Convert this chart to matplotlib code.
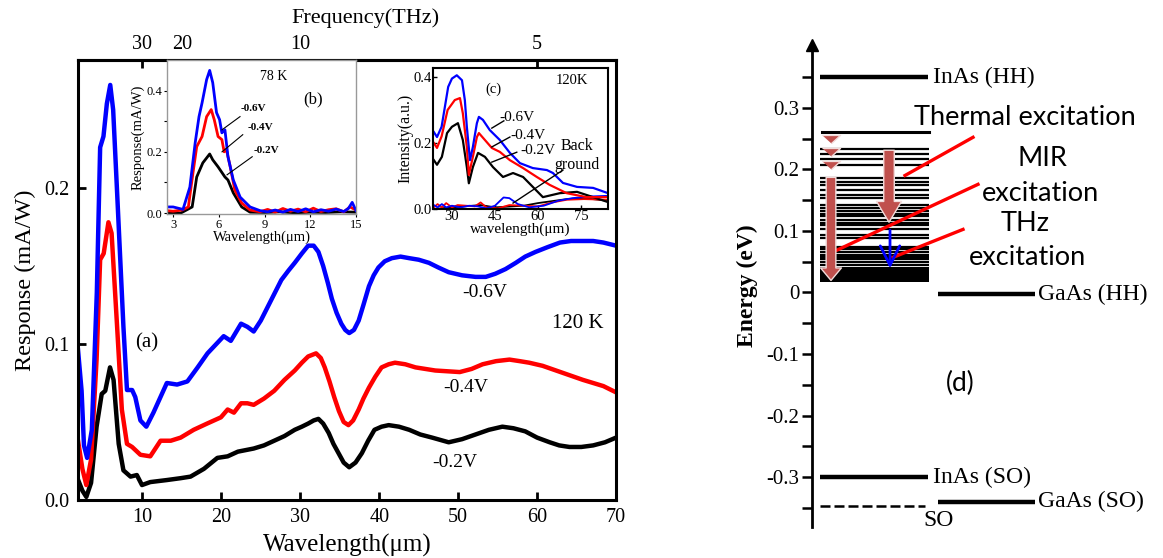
import numpy as np
import matplotlib.pyplot as plt
from matplotlib.ticker import FuncFormatter

plt.rcParams['font.family'] = ['Liberation Serif', 'DejaVu Serif']

# ---------------- main panel (a): 120 K responsivity ----------------
wl_06 = [1.85, 2.3, 2.6, 3.0, 3.6, 4.23, 4.65, 5.07, 5.5, 5.93, 6.3, 6.8, 7.6, 8.05,
         8.7, 9.1, 9.75, 10.5, 11.4, 13.1, 14.4, 15.7, 17.0, 18.25, 20.3, 21.2,
         22.5, 23.3, 24.1, 25.0, 25.9, 26.8, 27.6, 28.5, 29.3, 30.2, 31.0, 31.7, 32.3,
         32.9, 33.5, 34.0, 34.6, 35.2, 35.7, 36.2, 36.8, 37.4, 38.0, 38.7, 39.3, 39.9,
         40.7, 41.6, 42.7, 43.8, 45.0, 46.3, 47.5, 48.8, 50.5, 52.2, 53.5, 54.7, 56.0,
         57.3, 58.5, 59.8, 61.3, 62.9, 64.3, 65.8, 67.1, 68.4, 70.0]
r_06 = [0.096, 0.070, 0.035, 0.027, 0.045, 0.133, 0.226, 0.233, 0.254, 0.266, 0.250,
        0.197, 0.111, 0.0705, 0.0705, 0.066, 0.051, 0.047, 0.056, 0.075, 0.074, 0.076,
        0.085, 0.094, 0.105, 0.102,
        0.113, 0.111, 0.108, 0.115, 0.124, 0.133, 0.141, 0.147, 0.152, 0.158, 0.163,
        0.163, 0.159, 0.150, 0.139, 0.129, 0.120, 0.113, 0.109, 0.107, 0.109, 0.115,
        0.125, 0.137, 0.144, 0.149, 0.153, 0.155, 0.156, 0.155, 0.154, 0.152, 0.149,
        0.146, 0.144, 0.143, 0.143, 0.145, 0.148, 0.152, 0.156, 0.159, 0.162, 0.165,
        0.166, 0.166, 0.166, 0.165, 0.163]

wl_04 = [1.85, 2.4, 2.9, 3.5, 4.2, 4.65, 5.1, 5.7, 6.1, 6.8, 7.4, 8.05, 8.7, 9.75,
         11.0, 12.3, 13.6, 14.85, 16.5, 18.2, 19.95, 20.8, 21.6,
         22.5, 23.3, 24.1, 25.4, 26.7, 28.0, 29.3, 30.2, 31.0, 32.0, 32.6, 33.1, 33.7,
         34.3, 34.9, 35.5, 36.1, 36.7, 37.4, 38.0, 38.7, 39.5, 40.3, 41.2, 42.0, 43.3,
         44.6, 47.1, 50.2, 51.7, 53.1, 54.8, 56.5, 57.8, 59.0, 60.7, 62.4, 64.1, 65.8,
         67.1, 68.4, 70.0]
r_04 = [0.038, 0.020, 0.0096, 0.026, 0.090, 0.154, 0.158, 0.178, 0.171, 0.111, 0.058,
        0.036, 0.034, 0.029, 0.028, 0.038, 0.038, 0.040, 0.045, 0.049, 0.053, 0.058,
        0.056,
        0.062, 0.062, 0.061, 0.065, 0.070, 0.077, 0.083, 0.088, 0.092, 0.094, 0.091,
        0.085, 0.076, 0.066, 0.057, 0.050, 0.048, 0.051, 0.058, 0.065, 0.072, 0.079,
        0.085, 0.087, 0.088, 0.087, 0.085, 0.083, 0.082, 0.084, 0.087, 0.089, 0.090,
        0.089, 0.088, 0.086, 0.083, 0.080, 0.077, 0.075, 0.073, 0.069]

wl_02 = [1.85, 2.4, 2.9, 3.5, 4.2, 4.85, 5.3, 5.9, 6.35, 7.0, 7.6, 8.5, 9.3, 9.95,
         11.0, 13.1, 14.85, 16.1, 17.8, 19.5, 20.8,
         22.1, 24.1, 25.4, 26.7, 28.0, 29.3, 30.2, 31.0, 31.7, 32.3, 32.9, 33.6, 34.2,
         34.85, 35.5, 36.2, 37.0, 37.8, 38.6, 39.4, 40.3, 41.2, 42.5, 43.8, 45.2, 46.7,
         48.8, 50.5, 52.2, 53.9, 55.6, 57.0, 58.5, 60.0, 61.6, 62.8, 64.1, 65.6, 67.1,
         68.6, 70.0]
r_02 = [0.013, 0.006, 0.002, 0.011, 0.047, 0.068, 0.070, 0.085, 0.077, 0.036, 0.019,
        0.015, 0.016, 0.0096, 0.0115, 0.0128, 0.014, 0.015, 0.020, 0.027, 0.028,
        0.031, 0.033, 0.035, 0.038, 0.041, 0.045, 0.047, 0.049, 0.051, 0.052, 0.049,
        0.043, 0.036, 0.030, 0.024, 0.021, 0.024, 0.030, 0.038, 0.045, 0.047, 0.048,
        0.047, 0.045, 0.042, 0.040, 0.037, 0.039, 0.042, 0.045, 0.047, 0.046, 0.044,
        0.040, 0.037, 0.035, 0.034, 0.034, 0.035, 0.037, 0.040]

# ---------------- inset (b): 78 K ----------------
b_wl_06 = [2.6, 3.0, 3.65, 4.1, 4.45, 4.7, 4.9, 5.2, 5.4, 5.6, 5.85, 6.05, 6.2, 6.4,
           6.6, 6.95, 7.4, 8.05, 8.7, 9.2, 9.7, 10.2, 10.7, 11.2, 11.7, 12.2, 12.7,
           13.2, 13.7, 14.2, 14.5, 14.75, 15.0]
b_r_06 = [0.02, 0.02, 0.012, 0.085, 0.23, 0.315, 0.36, 0.436, 0.466, 0.426, 0.328,
          0.305, 0.262, 0.272, 0.184, 0.108, 0.052, 0.02, 0.008, 0.004, 0.010, 0.003,
          0.012, 0.005, 0.014, 0.004, 0.011, 0.006, 0.013, 0.005, 0.015, 0.035, 0.008]
b_wl_04 = [2.6, 3.0, 3.6, 4.0, 4.3, 4.55, 4.9, 5.2, 5.5, 5.7, 5.95, 6.2, 6.35, 6.5,
           6.75, 7.05, 7.5, 8.05, 8.7, 9.2, 9.7, 10.2, 10.7, 11.2, 11.7, 12.2, 12.7,
           13.2, 13.7, 14.2, 14.6, 15.0]
b_r_04 = [0.008, 0.006, 0.01, 0.02, 0.13, 0.217, 0.25, 0.315, 0.338, 0.305, 0.25,
          0.24, 0.2, 0.207, 0.151, 0.075, 0.033, 0.01, 0.004, 0.012, 0.003, 0.015,
          0.006, 0.013, 0.004, 0.016, 0.005, 0.011, 0.014, 0.004, 0.02, 0.01]
b_wl_02 = [2.6, 3.5, 4.25, 4.55, 4.95, 5.4, 5.6, 5.95, 6.4, 6.6, 6.95, 7.5, 8.05, 9.0,
           10.0, 11.0, 12.0, 13.0, 14.0, 15.0]
b_r_02 = [0.0, 0.0, 0.02, 0.118, 0.164, 0.193, 0.174, 0.151, 0.118, 0.108, 0.066,
          0.02, 0.003, 0.002, 0.004, 0.001, 0.003, 0.002, 0.004, 0.003]

# ---------------- inset (c): 120 K intensity ----------------
c_wl_06 = [23.7, 24.8, 26.4, 28.7, 30.0, 31.7, 33.5, 34.5, 35.2, 36.3, 37.3, 38.7,
           39.4, 40.8, 43.2, 46.7, 50.2, 53.7, 58.2, 63.1, 65.2, 68.7, 73.6, 79.2, 84.4]
c_i_06 = [0.233, 0.218, 0.249, 0.37, 0.395, 0.405, 0.39, 0.33, 0.249, 0.148, 0.188,
          0.26, 0.279, 0.27, 0.239, 0.209, 0.17, 0.139, 0.124, 0.118, 0.109, 0.079,
          0.067, 0.064, 0.048]
c_wl_04 = [23.7, 24.8, 26.4, 28.5, 31.0, 32.8, 33.8, 35.2, 35.9, 37.3, 38.7, 39.4,
           41.5, 43.9, 46.7, 50.2, 54.8, 59.6, 64.1, 70.0, 76.9, 84.4]
c_i_04 = [0.2, 0.185, 0.22, 0.3, 0.33, 0.336, 0.29, 0.188, 0.103, 0.158, 0.218, 0.23,
          0.209, 0.185, 0.173, 0.148, 0.124, 0.097, 0.073, 0.048, 0.036, 0.036]
c_wl_02 = [23.7, 24.8, 26.5, 28.3, 30.0, 32.1, 33.8, 35.2, 35.9, 37.3, 39.1, 41.5,
           44.3, 47.8, 51.3, 54.8, 58.2, 61.7, 67.6, 73.6, 79.2, 84.4]
c_i_02 = [0.148, 0.134, 0.158, 0.23, 0.249, 0.26, 0.209, 0.127, 0.078, 0.127, 0.17,
          0.158, 0.127, 0.097, 0.109, 0.097, 0.067, 0.036, 0.048, 0.052, 0.036, 0.021]

# background (no illumination) traces
bg_wl_06 = [23.7, 25, 26.5, 28, 30, 33, 36, 39, 42, 45, 48, 50, 53, 57, 62, 67, 72, 78, 84.4]
bg_i_06 = [0.012, 0.005, 0.015, 0.005, 0.01, 0.005, 0.01, 0.008, 0.002, 0.01, 0.035,
           0.033, 0.015, 0.005, 0.01, 0.025, 0.033, 0.038, 0.04]
bg_wl_04 = [23.7, 25, 26.5, 28, 30, 32, 35, 38, 40, 42, 46, 50, 55, 60, 65, 70, 76, 84.4]
bg_i_04 = [0.005, 0.015, 0.005, 0.018, 0.005, 0.012, 0.01, 0.008, 0.02, 0.005, 0.002,
           0.012, 0.01, 0.008, 0.02, 0.028, 0.03, 0.028]
bg_wl_02 = [23.7, 30, 40, 45, 55, 60, 70, 76, 84.4]
bg_i_02 = [0.0, 0.005, 0.012, 0.005, 0.01, 0.018, 0.03, 0.033, 0.025]

# ---------------- panel (d): band diagram (eV) ----------------
e_inas_hh = 0.35
e_gaas_hh = -0.003
e_inas_so = -0.30
e_gaas_so = -0.34
e_so = -0.347
qw_levels = [0.2325, 0.2255, 0.2174, 0.2076, 0.186, 0.180, 0.175, 0.166, 0.158, 0.153,
             0.1415, 0.137, 0.133, 0.128, 0.1236, 0.118, 0.113, 0.109, 0.1035, 0.0938,
             0.0883, 0.0737, 0.070, 0.0656, 0.0613, 0.0574, 0.0537, 0.0493, 0.045]
qw_top = 0.26
qw_band = (0.017, 0.042)
thermal_steps = [0.25, 0.228, 0.2065]

fig = plt.figure(figsize=(11.63, 5.58), dpi=100)

# main axes
ax = fig.add_axes([0.0671, 0.1039, 0.4626, 0.7886])
ax.plot(wl_02, r_02, color='black', lw=3.2, solid_joinstyle='round')
ax.plot(wl_04, r_04, color='red', lw=3.2, solid_joinstyle='round')
ax.plot(wl_06, r_06, color='blue', lw=3.2, solid_joinstyle='round')
ax.set_xlim(1.85, 70)
ax.set_ylim(0, 0.282)
ax.set_xticks([10, 20, 30, 40, 50, 60, 70])
ax.set_yticks([0, 0.1, 0.2])
ax.yaxis.set_major_formatter(FuncFormatter(lambda v, p: f'{v:.1f}'))
ax.tick_params(direction='in', length=6, width=2, labelsize=14.5, pad=6)
for s in ax.spines.values():
    s.set_linewidth(2.2)
ax.set_xlabel('Wavelength(μm)', fontsize=18, labelpad=5)
ax.set_ylabel('Response (mA/W)', fontsize=17.5, labelpad=6)

top = ax.secondary_xaxis('top', functions=(lambda x: 299.79 / np.clip(x, 1e-3, None),
                                           lambda f: 299.79 / np.clip(f, 1e-3, None)))
top.set_xticks([30, 20, 10, 5])
top.tick_params(direction='in', length=6, width=2, labelsize=14.5, pad=4)
top.spines['top'].set_linewidth(2.2)
fig.text(365 / 1163, 1 - 18 / 558, 'Frequency(THz)', fontsize=16, ha='center', va='center')

ax.text(53.4, 0.133, '-0.6V', fontsize=14, ha='center', va='center')
ax.text(51.0, 0.072, '-0.4V', fontsize=14, ha='center', va='center')
ax.text(49.6, 0.024, '-0.2V', fontsize=14, ha='center', va='center')
ax.text(65.2, 0.113, '120 K', fontsize=15, ha='center', va='center')
ax.text(10.6, 0.101, '(a)', fontsize=15, ha='center', va='center')

# inset (b)
axb = fig.add_axes([0.1436, 0.6165, 0.1625, 0.2760])
axb.plot(b_wl_02, b_r_02, color='black', lw=2)
axb.plot(b_wl_04, b_r_04, color='red', lw=2)
axb.plot(b_wl_06, b_r_06, color='blue', lw=2)
axb.set_xlim(2.6, 15)
axb.set_ylim(-0.003, 0.5)
axb.set_xticks([3, 6, 9, 12, 15])
axb.set_yticks([0, 0.2, 0.4])
axb.set_yticks([0.1, 0.3], minor=True)
axb.yaxis.set_major_formatter(FuncFormatter(lambda v, p: f'{v:.1f}'))
axb.tick_params(which='both', direction='out', length=2.5, width=0.8, labelsize=9, pad=1)
for s in axb.spines.values():
    s.set_linewidth(1)
    s.set_color('#999999')
axb.set_xlabel('Wavelength(μm)', fontsize=10.5, labelpad=0)
axb.set_ylabel('Response(mA/W)', fontsize=10.5, labelpad=1)
axb.text(9.62, 0.446, '78 K', fontsize=10, ha='center', va='center')
axb.text(12.18, 0.37, '(b)', fontsize=12, ha='center', va='center')
axb.text(8.25, 0.341, '-0.6V', fontsize=8, fontweight='bold', ha='center', va='center')
axb.text(8.7, 0.279, '-0.4V', fontsize=8, fontweight='bold', ha='center', va='center')
axb.text(9.1, 0.206, '-0.2V', fontsize=8, fontweight='bold', ha='center', va='center')
axb.plot([7.39, 6.21], [0.315, 0.272], color='black', lw=0.8)
axb.plot([7.57, 6.21], [0.256, 0.200], color='black', lw=0.8)
axb.plot([8.19, 6.54], [0.184, 0.125], color='black', lw=0.8)

# inset (c)
axc = fig.add_axes([0.3723, 0.6254, 0.1505, 0.2527])
axc.plot(bg_wl_02, bg_i_02, color='black', lw=1.3)
axc.plot(bg_wl_04, bg_i_04, color='red', lw=1.3)
axc.plot(bg_wl_06, bg_i_06, color='blue', lw=1.3)
axc.plot(c_wl_02, c_i_02, color='black', lw=1.6)
axc.plot(c_wl_04, c_i_04, color='red', lw=1.6)
axc.plot(c_wl_06, c_i_06, color='blue', lw=1.6)
axc.set_xlim(23.4, 84.4)
axc.set_ylim(0, 0.427)
axc.set_xticks([30, 45, 60, 75])
axc.set_yticks([0, 0.2, 0.4])
axc.yaxis.set_major_formatter(FuncFormatter(lambda v, p: f'{v:.1f}'))
axc.tick_params(direction='in', length=3, width=1, labelsize=10.5, pad=1)
for s in axc.spines.values():
    s.set_linewidth(1.5)
axc.set_xlabel('wavelength(μm)', fontsize=11, labelpad=-1)
axc.set_ylabel('Intensity(a.u.)', fontsize=11.5, labelpad=0)
axc.text(71.8, 0.388, '120K', fontsize=10.5, ha='center', va='center')
axc.text(44.3, 0.364, '(c)', fontsize=10.5, ha='center', va='center')
axc.text(52.6, 0.276, '-0.6V', fontsize=11, ha='center', va='center')
axc.text(56.5, 0.224, '-0.4V', fontsize=11, ha='center', va='center')
axc.text(60.0, 0.176, '-0.2V', fontsize=11, ha='center', va='center')
axc.text(73.6, 0.191, 'Back', fontsize=11.5, ha='center', va='center')
axc.text(73.6, 0.133, 'ground', fontsize=11.5, ha='center', va='center')
axc.plot([43.9, 48.1], [0.245, 0.267], color='black', lw=1)
axc.plot([43.9, 50.2], [0.188, 0.218], color='black', lw=1)
axc.plot([43.9, 52.6], [0.142, 0.172], color='black', lw=1)
axc.plot([68.7, 51.3], [0.118, 0.018], color='black', lw=1)

# panel (d): band diagram; x runs in pixels to the right of the energy axis
axd = fig.add_axes([0.6982, 0.0556, 0.3018, 0.8638])
axd.set_xlim(0, 351)
axd.set_ylim(-0.381, 0.402)
for side in ['top', 'right', 'bottom']:
    axd.spines[side].set_visible(False)
axd.spines['left'].set_linewidth(2)
axd.set_xticks([])
axd.set_yticks([-0.3, -0.2, -0.1, 0, 0.1, 0.2, 0.3])
axd.set_yticks([-0.35, -0.25, -0.15, -0.05, 0.05, 0.15, 0.25, 0.35], minor=True)
axd.yaxis.set_major_formatter(FuncFormatter(lambda v, p: '0' if abs(v) < 1e-9 else f'{v:.1f}'))
axd.tick_params(axis='y', which='both', direction='out', length=7, width=1.8, labelsize=15, pad=2)
for lbl in axd.get_yticklabels():
    lbl.set_fontfamily(['Liberation Serif', 'DejaVu Serif'])
axd.set_ylabel('Energy (eV)', fontsize=17, fontweight='bold', labelpad=6)
axd.plot([0], [0.402], marker='^', color='black', ms=8, clip_on=False)

axd.plot([8, 116], [e_inas_hh] * 2, color='black', lw=3.2, solid_capstyle='butt')
axd.plot([126, 223], [e_gaas_hh] * 2, color='black', lw=3.2, solid_capstyle='butt')
axd.plot([8, 116], [e_inas_so] * 2, color='black', lw=3.2, solid_capstyle='butt')
axd.plot([126, 223], [e_gaas_so] * 2, color='black', lw=3.2, solid_capstyle='butt')
axd.plot([8, 113], [e_so] * 2, color='black', lw=1.8, ls=(0, (4, 1.6)))
serif = ['Liberation Serif', 'DejaVu Serif']
axd.text(121, e_inas_hh, 'InAs (HH)', fontsize=17, family=serif, ha='left', va='center')
axd.text(226, e_gaas_hh, 'GaAs (HH)', fontsize=17, family=serif, ha='left', va='center')
axd.text(121, e_inas_so, 'InAs (SO)', fontsize=17, family=serif, ha='left', va='center')
axd.text(226, e_gaas_so, 'GaAs (SO)', fontsize=17, family=serif, ha='left', va='center')
axd.text(127, -0.371, 'SO', fontsize=17, family=serif, ha='center', va='center')

# quantum dot levels
axd.hlines(qw_levels, 8, 117, color='black', lw=1.6)
axd.plot([10, 117], [qw_top] * 2, color='black', lw=2.2)
axd.fill_between([8, 117], qw_band[0], qw_band[1], color='black', lw=0)

brown = '#C0504D'
axd.annotate('', xy=(19, 0.0195), xytext=(19, 0.187),
             arrowprops=dict(arrowstyle='simple,head_length=0.45,head_width=0.75,tail_width=0.35',
                             mutation_scale=20, fc=brown, ec='#F2DCDB', lw=1,
                             shrinkA=0, shrinkB=0))
axd.annotate('', xy=(77, 0.114), xytext=(77, 0.231),
             arrowprops=dict(arrowstyle='simple,head_length=0.75,head_width=0.9,tail_width=0.38',
                             mutation_scale=20, fc=brown, ec='#F2DCDB', lw=1,
                             shrinkA=0, shrinkB=0))
axd.plot([19] * len(thermal_steps), thermal_steps, ls='none',
         marker=[(-1, 0.45), (1, 0.45), (0, -0.45)], ms=13,
         mfc=brown, mec='#F2DCDB', mew=1)
axd.annotate('', xy=(78, 0.039), xytext=(78, 0.101),
             arrowprops=dict(arrowstyle='->,head_length=0.7,head_width=0.35',
                             mutation_scale=20, color='blue', lw=2,
                             shrinkA=0, shrinkB=0))

axd.plot([93, 161], [0.190, 0.252], color='red', lw=2.4)
axd.plot([20, 166], [0.065, 0.1756], color='red', lw=2.4)
axd.plot([81, 151], [0.057, 0.1024], color='red', lw=2.4)

sans = ['Lato', 'DejaVu Sans']
axd.text(213, 0.2846, 'Thermal excitation', fontsize=19.5, family=sans, ha='center', va='center')
axd.text(230, 0.218, 'MIR', fontsize=19.5, family=sans, ha='center', va='center')
axd.text(228, 0.161, 'excitation', fontsize=19.5, family=sans, ha='center', va='center')
axd.text(213, 0.112, 'THz', fontsize=19.5, family=sans, ha='center', va='center')
axd.text(215, 0.057, 'excitation', fontsize=19.5, family=sans, ha='center', va='center')
axd.text(148, -0.148, '(d)', fontsize=19, family=sans, ha='center', va='center')

fig.savefig('out.png', dpi=100)
